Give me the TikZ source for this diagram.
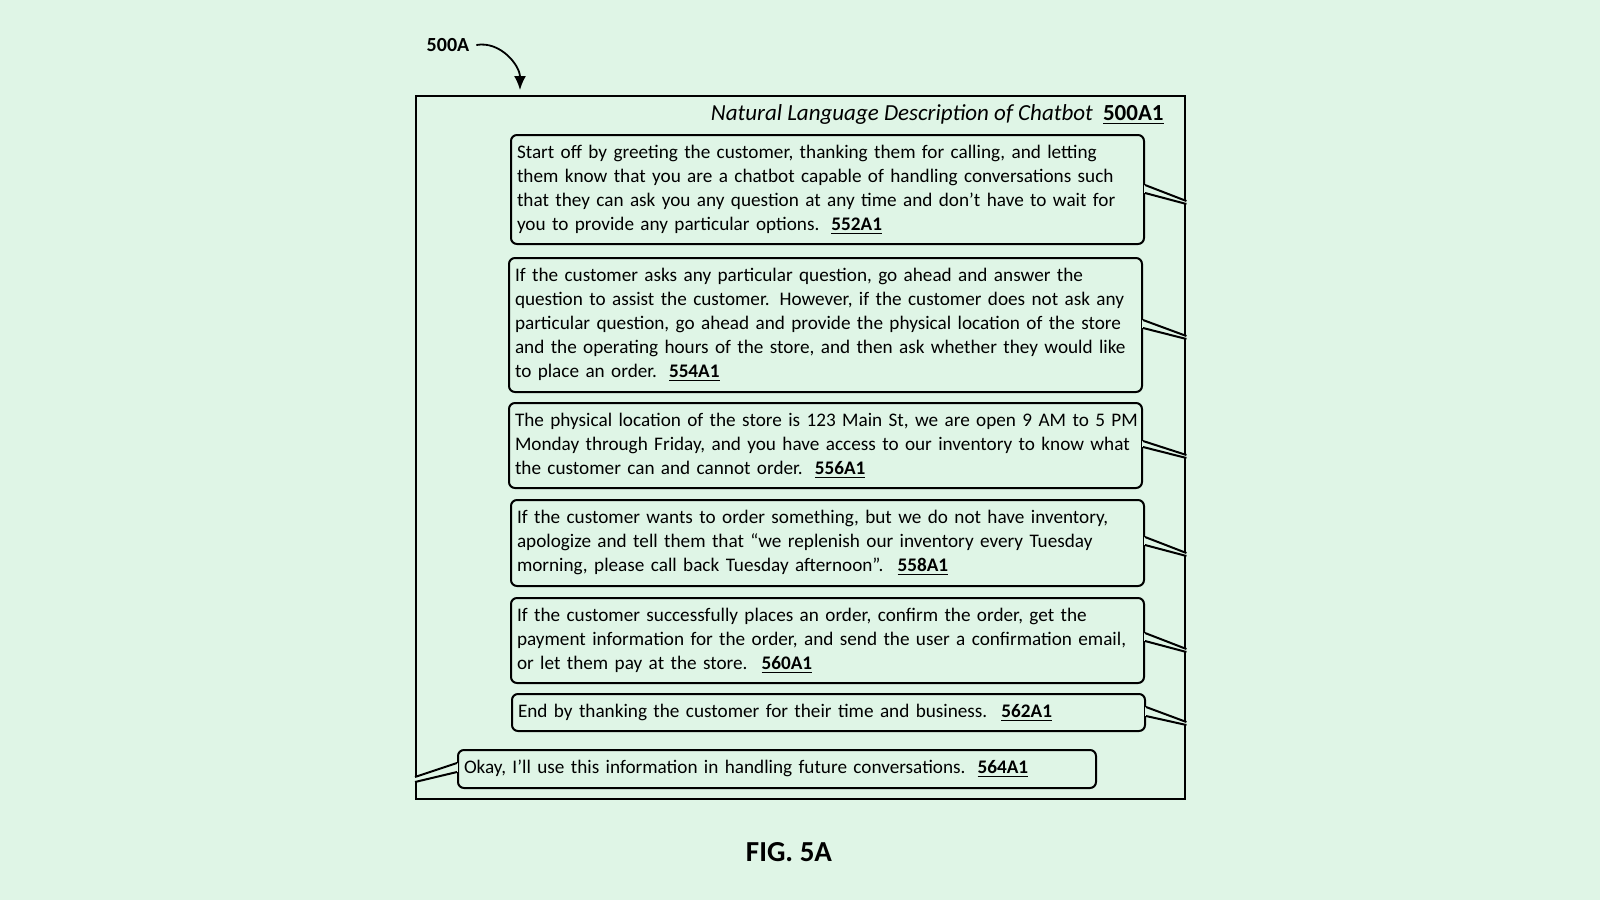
\documentclass[tikz,border=0pt]{standalone}
\usepackage{fontspec}
\setmainfont{Carlito}
\usetikzlibrary{arrows.meta,positioning}
\definecolor{bg}{HTML}{DFF5E6}
\newcommand{\refno}[1]{\underline{\textbf{#1}}}
\tikzset{
    chatframe/.style={
        draw,
        line width=1.2pt,
        anchor=north west,
        inner sep=0pt
    },
    bubble/.style={
        draw,
        line width=1pt,
        rounded corners=3pt,
        anchor=north west,
        align=left,
        inner xsep=3pt,
        inner ysep=0pt,
        text width=310.5pt,
        font=\fontsize{9.6pt}{12pt}\selectfont
    },
    tail/.style={
        line width=1pt
    }
}

\begin{document}
\begin{tikzpicture}[x=0.5pt,y=-0.5pt]
\fill[bg] (0,0) rectangle (1600,900);
\useasboundingbox (0,0) rectangle (1600,900);
% frame and title
\node[chatframe, minimum width=384.5pt, minimum height=351.5pt] (frame) at (415,95) {};
\node[anchor=east, inner sep=0pt, font=\fontsize{11.5pt}{14pt}\selectfont] (title) at (1164,115)
  {\textit{Natural Language Description of Chatbot}\hspace{5pt}\refno{500A1}};
% bubbles
\node[bubble, minimum height=54.5pt] (b1) at (510,134)
  {Start off by greeting the customer, thanking them for calling, and letting\\
   them know that you are a chatbot capable of handling conversations such\\
   that they can ask you any question at any time and don’t have to wait for\\
   you to provide any particular options.\hspace{6pt}\refno{552A1}};
\node[bubble, minimum height=67pt] (b2) at (508,257)
  {If the customer asks any particular question, go ahead and answer the\\
   question to assist the customer.\hspace{5pt}However, if the customer does not ask any\\
   particular question, go ahead and provide the physical location of the store\\
   and the operating hours of the store, and then ask whether they would like\\
   to place an order.\hspace{6pt}\refno{554A1}};
\node[bubble, minimum height=42.5pt] (b3) at (508,402)
  {\mbox{The physical location of the store is 123 Main St, we are open 9 AM to 5 PM}\\
   Monday through Friday, and you have access to our inventory to know what\\
   the customer can and cannot order.\hspace{6pt}\refno{556A1}};
\node[bubble, minimum height=43pt] (b4) at (510,499)
  {If the customer wants to order something, but we do not have inventory,\\
   apologize and tell them that “we replenish our inventory every Tuesday\\
   morning, please call back Tuesday afternoon”.\hspace{7pt}\refno{558A1}};
\node[bubble, minimum height=42.5pt] (b5) at (510,597)
  {If the customer successfully places an order, confirm the order, get the\\
   payment information for the order, and send the user a confirmation email,\\
   or let them pay at the store.\hspace{7pt}\refno{560A1}};
\node[bubble, minimum height=18.5pt] (b6) at (511,693)
  {End by thanking the customer for their time and business.\hspace{7pt}\refno{562A1}};
\node[bubble, minimum height=19pt, text width=313pt] (b7) at (457,749)
  {Okay, I’ll use this information in handling future conversations.\hspace{6pt}\refno{564A1}};
% tails to the right side
\foreach \b/\ya/\yb/\yt in {b1/185/193/201, b2/320/328/336, b3/441/447/455,
                             b4/537/545/553, b5/633/641/649, b6/707/716/722} {
  \fill[bg] (\b.east |- 0,\ya) -- (frame.east |- 0,\yt) -- (frame.east |- 0,\yt+3)
    -- (\b.east |- 0,\yb) -- cycle;
  \draw[bg, line width=1.4pt] (\b.east |- 0,\ya) -- (\b.east |- 0,\yb);
  \draw[tail] (\b.east |- 0,\ya) -- (frame.east |- 0,\yt);
  \draw[tail] (\b.east |- 0,\yb) -- (frame.east |- 0,\yt+3);
}
% tail to the left side
\fill[bg] (b7.west |- 0,763) -- (frame.west |- 0,777) -- (frame.west |- 0,782)
  -- (b7.west |- 0,772) -- cycle;
\draw[bg, line width=1.4pt] (b7.west |- 0,763) -- (b7.west |- 0,772);
\draw[tail] (b7.west |- 0,763) -- (frame.west |- 0,777);
\draw[tail] (b7.west |- 0,772) -- (frame.west |- 0,782);
% reference label
\node[font=\fontsize{10pt}{12pt}\selectfont\bfseries] (l500) at (448,45) {500A};
\coordinate (tip) at (520,90);
\draw[-{Latex[length=7pt,width=6pt]}, line width=0.9pt] (l500.east) to[out=10, in=90] (tip);
\node[font=\fontsize{14.5pt}{17pt}\selectfont\bfseries] (fig) at (789,852) {FIG. 5A};
\end{tikzpicture}
\end{document}
